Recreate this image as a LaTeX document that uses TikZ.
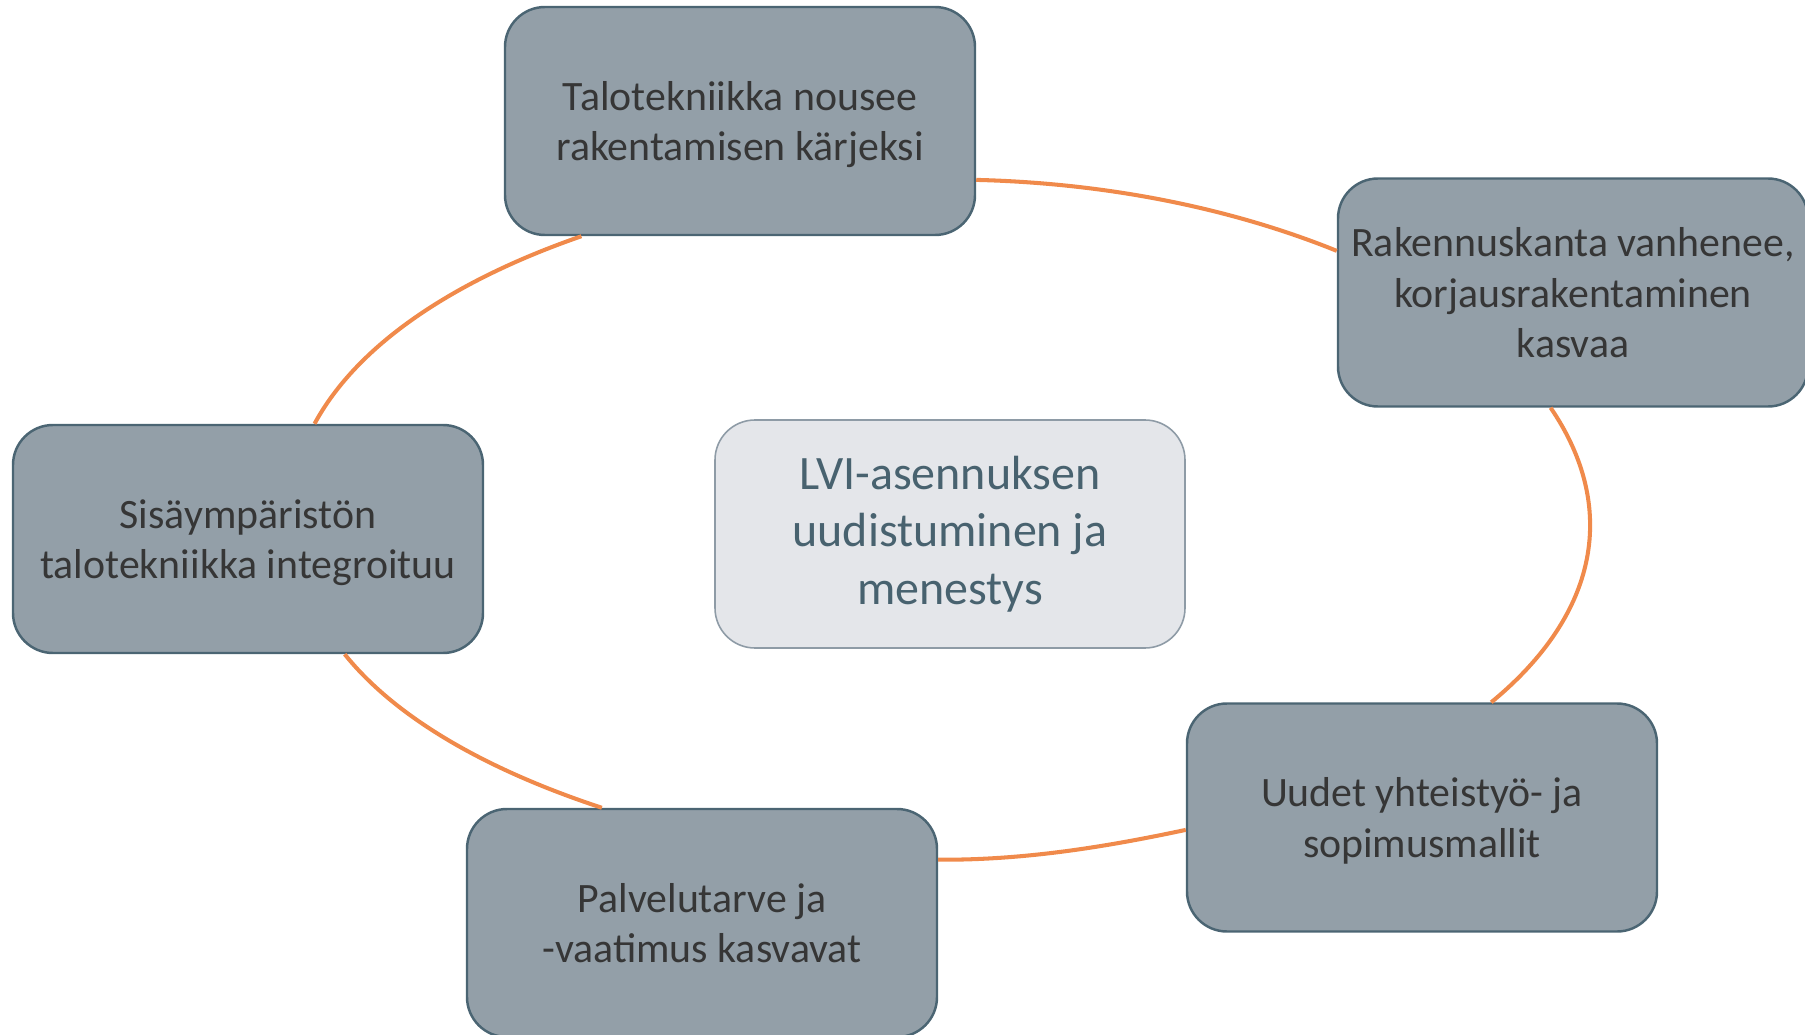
\documentclass[tikz,border=0pt]{standalone}
\usepackage{fontspec}
\setmainfont{Carlito}
\definecolor{boxgray}{HTML}{939FA8}
\definecolor{boxedge}{HTML}{4B6573}
\definecolor{boxtext}{HTML}{363636}
\definecolor{hubfill}{HTML}{E4E6EA}
\definecolor{hubedge}{HTML}{8E9BA6}
\definecolor{hubtext}{HTML}{48626F}
\definecolor{ringorange}{HTML}{F08A4B}
\tikzset{
    %Define style for boxes
    box/.style={
           rectangle,
           rounded corners=0.8cm,
           draw=boxedge, line width=1.4pt,
           fill=boxgray,
           text=boxtext,
           minimum width=9.4cm,
           minimum height=4.56cm,
           align=center,
           text depth=-5pt,
           font=\fontsize{23.8}{28.7}\selectfont},
    hub/.style={
           rectangle,
           rounded corners=0.8cm,
           draw=hubedge, line width=0.9pt,
           fill=hubfill,
           text=hubtext,
           minimum width=9.4cm,
           minimum height=4.56cm,
           align=center,
           font=\fontsize{27.3}{32.6}\selectfont},
    % Define connector style
    ring/.style={
           draw=ringorange,
           line width=2.3pt}
}

\begin{document}
\begin{tikzpicture}
  \useasboundingbox (0,0) rectangle (36.1,-20.7);

  \node[hub] (hub) at (19.0,-10.68) {LVI-asennuksen\\uudistuminen ja\\menestys};

  \node[box] (tech) at (14.8,-2.42) {Talotekniikka nousee\\rakentamisen kärjeksi};
  \node[box] (stock) at (31.46,-5.85) {Rakennuskanta vanhenee,\\korjausrakentaminen\\kasvaa};
  \node[box] (coop) at (28.44,-16.35) {Uudet yhteistyö- ja\\sopimusmallit};
  \node[box] (service) at (14.04,-18.46) {Palvelutarve ja\\-vaatimus kasvavat};
  \node[box] (indoor) at (4.96,-10.78) {Sisäympäristön\\talotekniikka integroituu};

  \path [ring] (tech.-14.3)
    edge[out=-1.4, in=158, out distance=2.64cm, in distance=2.26cm]
      (stock.170.1);

  \path [ring] (stock.259.6)
    edge[out=-55.7, in=39.4, out distance=2.40cm, in distance=2.80cm]
      (coop.59.1);

  \path [ring] (coop.183.8)
    edge[out=192, in=-0.4, out distance=1.63cm, in distance=1.72cm]
      (service.15.5);

  \path [ring] (service.131.8)
    edge[out=161.8, in=-51.3, out distance=2.38cm, in distance=1.66cm]
      (indoor.-50.5);

  \path [ring] (indoor.60.3)
    edge[out=61.6, in=199.1, out distance=1.78cm, in distance=2.74cm]
      (tech.216.3);
\end{tikzpicture}
\end{document}
